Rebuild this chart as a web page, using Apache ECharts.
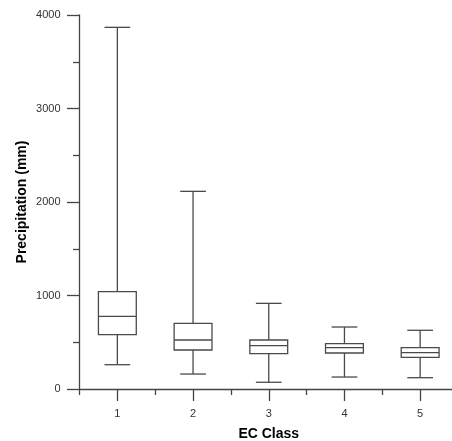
<!DOCTYPE html>
<html><head><meta charset="utf-8">
<script src="https://cdn.jsdelivr.net/npm/echarts@6/dist/echarts.min.js"></script>
<style>html,body{margin:0;padding:0;background:#fff}#c{width:452px;height:441px}</style>
</head><body><div id="c"></div>
<script>
const categories = ['1', '2', '3', '4', '5'];
// [low whisker, Q1, median, Q3, high whisker] in mm
const lowWhisker = [260, 160, 72, 128, 121];
const q1 = [581, 417, 378, 385, 339];
const median = [777, 524, 463, 442, 388];
const q3 = [1041, 702, 524, 485, 442];
const highWhisker = [3868, 2114, 916, 663, 628];
const yTicks = [0, 1000, 2000, 3000, 4000];

const boxData = categories.map((c, i) => [i, lowWhisker[i], q1[i], median[i], q3[i], highWhisker[i]]);
const lineStyle = { stroke: '#4a4a4a', lineWidth: 1.3, fill: null };

const chart = echarts.init(document.getElementById('c'), null, { renderer: 'canvas' });
chart.setOption({
  animation: false,
  backgroundColor: '#fff',
  grid: { left: 79.5, top: 15, bottom: 52, right: -6, containLabel: false, outerBoundsMode: 'none' },
  xAxis: [{
    type: 'category', data: categories, boundaryGap: true,
    name: 'EC Class', nameLocation: 'middle', nameGap: 38, nameMoveOverlap: false,
    nameTextStyle: { fontFamily: 'Liberation Sans', fontWeight: 'bold', fontSize: 14, color: '#000' },
    axisLine: { show: true, lineStyle: { color: '#444', width: 1.3 } },
    axisTick: { show: true, alignWithLabel: true, length: 12, interval: 0, lineStyle: { color: '#444', width: 1.3 } },
    axisLabel: { margin: 19, fontFamily: 'Liberation Sans', fontSize: 11, color: '#333', interval: 0 },
    splitLine: { show: false }
  }, {
    type: 'category', data: categories, boundaryGap: true, position: 'bottom', offset: 0,
    axisLine: { show: false },
    axisTick: { show: true, length: 6, interval: 0, lineStyle: { color: '#444', width: 1.3 } },
    axisLabel: { show: false },
    splitLine: { show: false }
  }],
  yAxis: {
    type: 'value', min: yTicks[0], max: yTicks[yTicks.length - 1], interval: 1000,
    name: 'Precipitation (mm)', nameLocation: 'middle', nameGap: 50, nameMoveOverlap: false,
    nameTextStyle: { fontFamily: 'Liberation Sans', fontWeight: 'bold', fontSize: 14, color: '#000' },
    axisLine: { show: true, lineStyle: { color: '#444', width: 1.3 } },
    axisTick: { show: true, length: 12.5, lineStyle: { color: '#444', width: 1.3 } },
    minorTick: { show: true, splitNumber: 2, length: 6.5, lineStyle: { color: '#444', width: 1.3 } },
    axisLabel: { margin: 19, fontFamily: 'Liberation Sans', fontSize: 11, color: '#333',
      formatter: v => yTicks.includes(v) ? String(v) : '' },
    splitLine: { show: false }
  },
  series: [{
    type: 'custom',
    xAxisIndex: 0,
    data: boxData,
    encode: { x: 0, y: [1, 2, 3, 4, 5] },
    renderItem: function (params, api) {
      const idx = api.value(0);
      const band = api.size([1, 0])[0];
      const hw = band * 0.25;
      const cw = band * 0.17;
      const pLow = api.coord([idx, api.value(1)]);
      const pQ1 = api.coord([idx, api.value(2)]);
      const pMed = api.coord([idx, api.value(3)]);
      const pQ3 = api.coord([idx, api.value(4)]);
      const pHigh = api.coord([idx, api.value(5)]);
      const x = pMed[0];
      const line = (x1, y1, x2, y2) => ({ type: 'line', shape: { x1, y1, x2, y2 }, style: lineStyle });
      return {
        type: 'group',
        children: [
          line(x, pHigh[1], x, pQ3[1]),
          line(x, pQ1[1], x, pLow[1]),
          line(x - cw, pHigh[1], x + cw, pHigh[1]),
          line(x - cw, pLow[1], x + cw, pLow[1]),
          { type: 'rect', shape: { x: x - hw, y: pQ3[1], width: 2 * hw, height: pQ1[1] - pQ3[1] },
            style: { stroke: '#4a4a4a', lineWidth: 1.3, fill: '#fff' } },
          line(x - hw, pMed[1], x + hw, pMed[1])
        ]
      };
    }
  }]
});
</script></body></html>
